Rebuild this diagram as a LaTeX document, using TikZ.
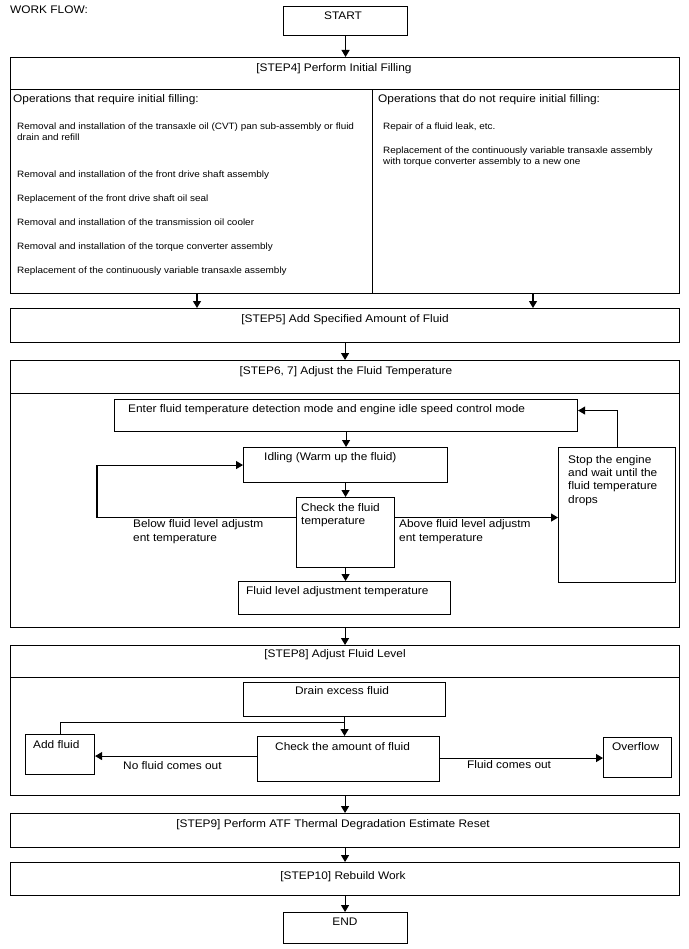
\documentclass[tikz,border=0pt]{standalone}
\usepackage{fontspec}
\setmainfont[FakeStretch=1.08]{Liberation Sans}
\usetikzlibrary{arrows.meta}

\tikzset{
  box/.style={draw, line width=1.1pt, inner sep=0pt, anchor=north west},
  txt/.style={inner sep=0pt, font=\fontsize{11}{13}\selectfont, align=left},
  small/.style={inner sep=0pt, font=\fontsize{9.2}{11}\selectfont, align=left},
  flow/.style={line width=1.1pt, -{Triangle[length=7pt,width=8pt]}},
  link/.style={line width=1.1pt},
}

\begin{document}
\begin{tikzpicture}[x=1pt,y=-1pt]
\useasboundingbox (0,0) rectangle (688,949);

% top
\node[txt, anchor=base west] (title) at (10,14) {WORK FLOW:};
\node[box, minimum width=124pt, minimum height=29pt] (start) at (283,6) {};
\node[txt, anchor=base] (start-t) at (343,20) {START};

% step 4
\node[box, minimum width=669pt, minimum height=32pt] (step4) at (10,57) {};
\node[txt, anchor=base] (step4-t) at (334,72) {[STEP4] Perform Initial Filling};
\node[box, minimum width=362pt, minimum height=204pt] (opsreq) at (10,89) {};
\node[box, minimum width=307pt, minimum height=204pt] (opsnoreq) at (372,89) {};
\node[txt, anchor=base west] (opsreq-t) at (13,103) {Operations that require initial filling:};
\node[txt, anchor=base west] (opsnoreq-t) at (378,103) {Operations that do not require initial filling:};
\node[small, anchor=base west] (req1) at (17,141) {Removal and installation of the transaxle oil (CVT) pan sub-assembly or fluid\\drain and refill};
\node[small, anchor=base west] (req2) at (17,178) {Removal and installation of the front drive shaft assembly};
\node[small, anchor=base west] (req3) at (17,202) {Replacement of the front drive shaft oil seal};
\node[small, anchor=base west] (req4) at (17,226) {Removal and installation of the transmission oil cooler};
\node[small, anchor=base west] (req5) at (17,250) {Removal and installation of the torque converter assembly};
\node[small, anchor=base west] (req6) at (17,274) {Replacement of the continuously variable transaxle assembly};
\node[small, anchor=base west] (noreq1) at (383,130) {Repair of a fluid leak, etc.};
\node[small, anchor=base west] (noreq2) at (383,165) {Replacement of the continuously variable transaxle assembly\\with torque converter assembly to a new one};

% step 5
\node[box, minimum width=669pt, minimum height=34pt] (step5) at (10,308) {};
\node[txt, anchor=base] (step5-t) at (345,322) {[STEP5] Add Specified Amount of Fluid};

% step 6, 7
\node[box, minimum width=669pt, minimum height=33pt] (step6) at (10,360) {};
\node[txt, anchor=base] (step6-t) at (346,374) {[STEP6, 7] Adjust the Fluid Temperature};
\node[box, minimum width=669pt, minimum height=234pt] (step6-body) at (10,393) {};
\node[box, minimum width=463pt, minimum height=32pt] (enter) at (114,399) {};
\node[txt, anchor=base west] (enter-t) at (128,412) {Enter fluid temperature detection mode and engine idle speed control mode};
\node[box, minimum width=204pt, minimum height=35pt] (idle) at (243,447) {};
\node[txt, anchor=base west] (idle-t) at (264,460) {Idling (Warm up the fluid)};
\node[box, minimum width=98pt, minimum height=70pt] (check) at (296,497) {};
\node[txt, anchor=base west] (check-t) at (301,524) {Check the fluid\\temperature};
\node[box, minimum width=212pt, minimum height=33pt] (fltemp) at (238,581) {};
\node[txt, anchor=base west] (fltemp-t) at (246,594) {Fluid level adjustment temperature};
\node[box, minimum width=117pt, minimum height=135pt] (stop) at (558,447) {};
\node[txt, anchor=base west, font=\fontsize{11}{13.3}\selectfont] (stop-t) at (568,503) {Stop the engine\\and wait until the\\fluid temperature\\drops};
\node[txt, anchor=base west, font=\fontsize{11}{14}\selectfont] (below-t) at (133,541) {Below fluid level adjustm\\ent temperature};
\node[txt, anchor=base west, font=\fontsize{11}{14}\selectfont] (above-t) at (399,541) {Above fluid level adjustm\\ent temperature};

% step 8
\node[box, minimum width=669pt, minimum height=32pt] (step8) at (10,645) {};
\node[txt, anchor=base] (step8-t) at (335,657) {[STEP8] Adjust Fluid Level};
\node[box, minimum width=669pt, minimum height=118pt] (step8-body) at (10,677) {};
\node[box, minimum width=202pt, minimum height=34pt] (drain) at (243,682) {};
\node[txt, anchor=base] (drain-t) at (342,694) {Drain excess fluid};
\node[box, minimum width=182pt, minimum height=45pt] (amount) at (257,736) {};
\node[txt, anchor=base west] (amount-t) at (275,750) {Check the amount of fluid};
\node[box, minimum width=69pt, minimum height=40pt] (addfl) at (25,734) {};
\node[txt, anchor=base west] (addfl-t) at (33,748) {Add fluid};
\node[box, minimum width=68pt, minimum height=40pt] (overflow) at (603,737) {};
\node[txt, anchor=base west] (overflow-t) at (612,750) {Overflow};
\node[txt, anchor=base west] (nofl-t) at (123,769) {No fluid comes out};
\node[txt, anchor=base west] (fl-t) at (467,768) {Fluid comes out};

% step 9, 10, end
\node[box, minimum width=669pt, minimum height=34pt] (step9) at (10,813) {};
\node[txt, anchor=base] (step9-t) at (333,827) {[STEP9] Perform ATF Thermal Degradation Estimate Reset};
\node[box, minimum width=669pt, minimum height=33pt] (step10) at (10,862) {};
\node[txt, anchor=base] (step10-t) at (343,879) {[STEP10] Rebuild Work};
\node[box, minimum width=124pt, minimum height=31pt] (end) at (283,912) {};
\node[txt, anchor=base] (end-t) at (345,925) {END};

% main line
\draw[flow] (start.south) -- (start.south |- step4.north);
\draw[flow] (opsreq.south -| 197,0) -- (197,0 |- step5.north);
\draw[flow] (opsnoreq.south -| 533,0) -- (533,0 |- step5.north);
\draw[flow] (step5.south) -- (step5.south |- step6.north);
\draw[flow] (step6-body.south) -- (step6-body.south |- step8.north);
\draw[flow] (step8-body.south) -- (step8-body.south |- step9.north);
\draw[flow] (step9.south) -- (step9.south |- step10.north);
\draw[flow] (step10.south) -- (step10.south |- end.north);

% temperature loop
\draw[flow] (enter.south) -- (enter.south |- idle.north);
\draw[flow] (idle.south) -- (idle.south |- check.north);
\draw[flow] (check.south) -- (check.south |- fltemp.north);
\coordinate (chk-l) at ([yshift=15pt]check.west);
\coordinate (chk-r) at ([yshift=15pt]check.east);
\draw[flow] (chk-l) -- ++(-199,0) |- (idle.west);
\draw[flow] (chk-r) -- (chk-r -| stop.west);
\draw[flow] (stop.north) |- ([yshift=5pt]enter.east);

% fluid level
\draw[flow] (drain.south) -- (drain.south |- amount.north);
\draw[link] ([yshift=-5pt]drain.south) -| (addfl.north);
\coordinate (amt-l) at ([yshift=3pt]amount.west);
\coordinate (amt-r) at ([yshift=1pt]amount.east);
\draw[flow] (amt-l) -- (amt-l -| addfl.east);
\draw[flow] (amt-r) -- (amt-r -| overflow.west);
\end{tikzpicture}
\end{document}
